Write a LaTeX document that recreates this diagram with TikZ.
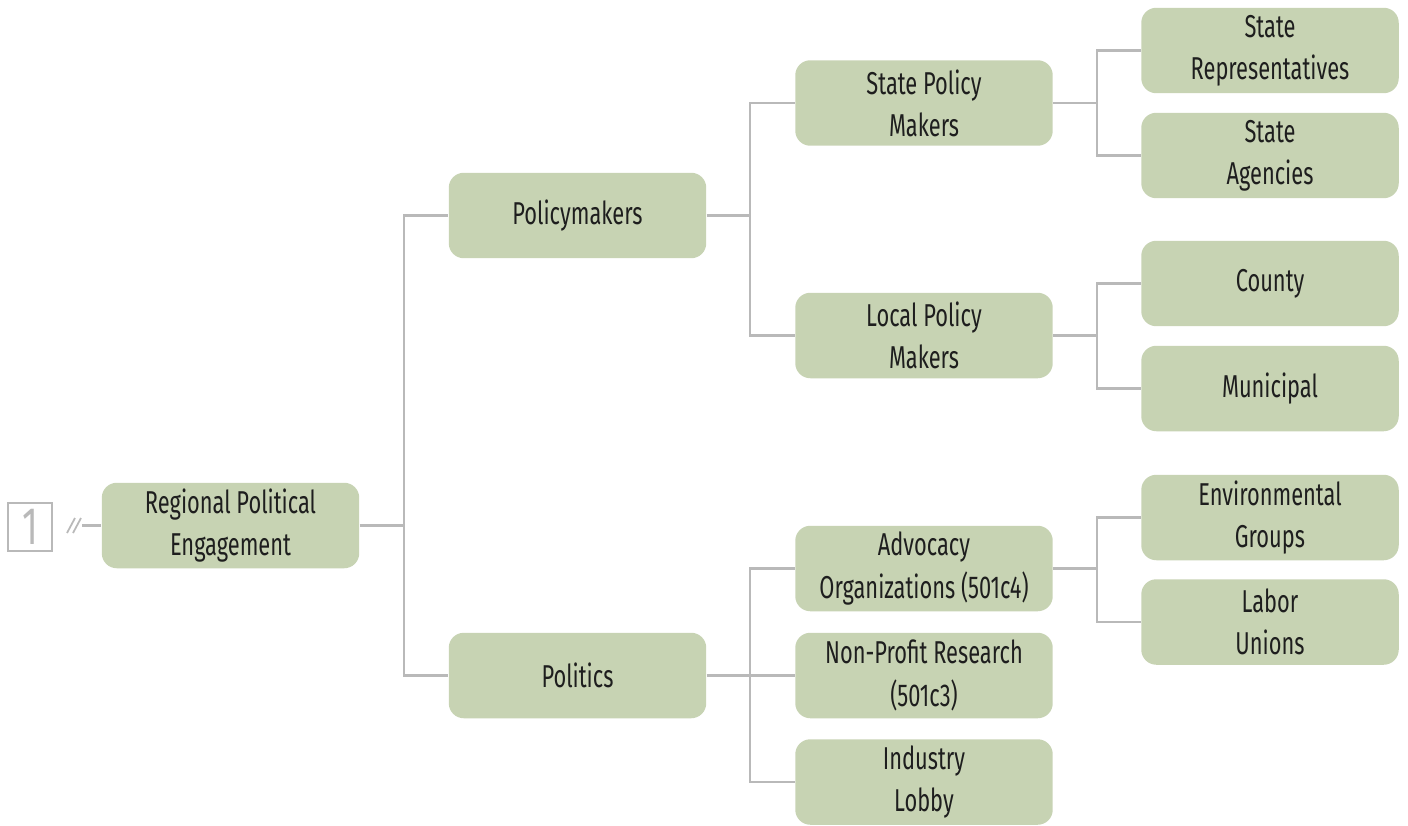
\documentclass[tikz,border=0pt]{standalone}
\usepackage{fontspec}
\setmainfont[FakeStretch=0.69]{Fira Sans}
\usepackage{xcolor}
\definecolor{boxgreen}{HTML}{C7D3B3}
\definecolor{linegray}{HTML}{B9B9B9}
\definecolor{textdark}{HTML}{1E1E1E}
\tikzset{
  topic/.style={fill=boxgreen,rounded corners=0.3cm,minimum width=5.15cm,minimum height=1.71cm,align=center,text=textdark,inner sep=0pt,font=\fontsize{18}{24}\selectfont},
  branch/.style={draw=linegray,line width=1.4pt}
}

\begin{document}
\begin{tikzpicture}[x=0.02cm,y=-0.02cm]
\useasboundingbox (0,0) rectangle (1408,825);
% root and level one
\node[topic] (root) at (230.5,525.5) {Regional Political\\Engagement};
\node[topic] (pm) at (577.5,215.5) {Policymakers};
\node[topic] (pol) at (577.5,675.5) {Politics};
% level two
\node[topic] (spm) at (924,103) {State Policy\\Makers};
\node[topic] (lpm) at (924,335.5) {Local Policy\\Makers};
\node[topic] (adv) at (924,568.5) {Advocacy\\Organizations (501c4)};
\node[topic] (npr) at (924,675.5) {Non-Profit Research\\(501c3)};
\node[topic] (ind) at (924,782) {Industry\\Lobby};
% level three
\node[topic] (srep) at (1270,50.5) {State\\Representatives};
\node[topic] (sag) at (1270,155.5) {State\\Agencies};
\node[topic] (cty) at (1270,283.5) {County};
\node[topic] (mun) at (1270,388.5) {Municipal};
\node[topic] (env) at (1270,517.5) {Environmental\\Groups};
\node[topic] (lab) at (1270,622) {Labor\\Unions};

% junctions
\coordinate (j0) at (404,525.5);
\coordinate (j1) at (750,215.5);
\coordinate (j2) at (750,675.5);
\coordinate (j3) at (1097,103);
\coordinate (j4) at (1097,335.5);
\coordinate (j5) at (1097,568.5);

\draw[branch] (root.east) -- (j0) |- (pm.west);
\draw[branch] (j0) |- (pol.west);
\draw[branch] (pm.east) -- (j1) |- (spm.west);
\draw[branch] (j1) |- (lpm.west);
\draw[branch] (pol.east) -- (j2) |- (adv.west);
\draw[branch] (j2) -- (npr.west);
\draw[branch] (j2) |- (ind.west);
\draw[branch] (spm.east) -- (j3) |- (srep.west);
\draw[branch] (j3) |- (sag.west);
\draw[branch] (lpm.east) -- (j4) |- (cty.west);
\draw[branch] (j4) |- (mun.west);
\draw[branch] (adv.east) -- (j5) |- (env.west);
\draw[branch] (j5) |- (lab.west);

% collapsed marker
\node[draw=linegray,line width=1.4pt,minimum width=0.87cm,minimum height=0.95cm,inner sep=0pt,text=linegray,font=\fontsize{30}{30}\selectfont] (num) at (30,527) {1};
\coordinate (tail) at (82,525.5);
\draw[branch] (tail) -- (root.west);
\draw[branch,line width=1pt] (67,533) -- (75,518) (73,533) -- (81,518);
\end{tikzpicture}
\end{document}
